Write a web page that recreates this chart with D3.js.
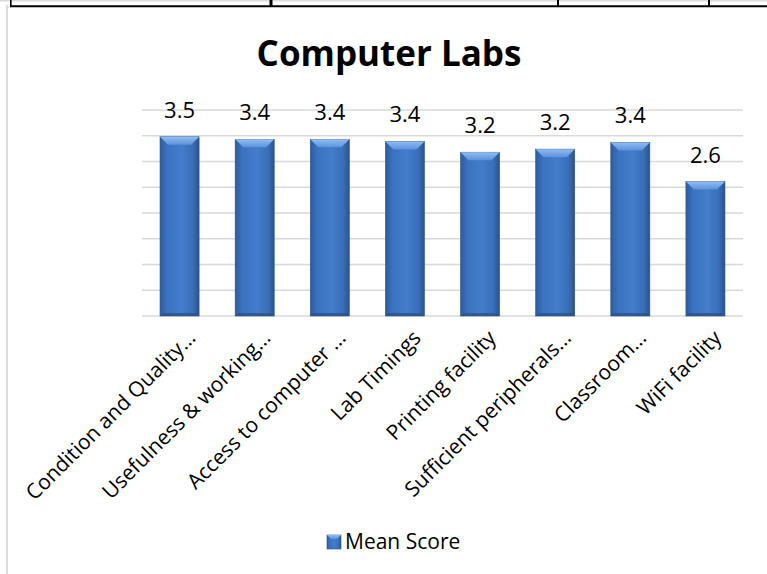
<!DOCTYPE html>
<html>
<head>
<meta charset="utf-8">
<script src="https://cdn.jsdelivr.net/npm/d3@7"></script>
<style>
  html, body { margin: 0; padding: 0; background: #fff; }
  svg { display: block; }
</style>
</head>
<body>
<svg id="chart" width="767" height="574"></svg>
<script>
const categories = [
  "Condition and Quality…",
  "Usefulness & working…",
  "Access to computer …",
  "Lab Timings",
  "Printing facility",
  "Sufficient peripherals…",
  "Classroom…",
  "WiFi facility"
];
const meanScore = [3.48, 3.43, 3.43, 3.39, 3.18, 3.24, 3.37, 2.61];
const yTicks = [0, 0.5, 1, 1.5, 2, 2.5, 3, 3.5, 4];
const title = "Computer Labs";
const seriesName = "Mean Score";

const svg = d3.select("#chart");
const font = "'Open Sans', 'Noto Sans', sans-serif";

// page frame (table border remnants)
svg.append("line").attr("x1", 0).attr("x2", 767).attr("y1", 0.8).attr("y2", 0.8)
  .attr("stroke", "#dcdcdc").attr("stroke-width", 1.6);
svg.append("line").attr("x1", 10).attr("x2", 767).attr("y1", 6.3).attr("y2", 6.3)
  .attr("stroke", "#000").attr("stroke-width", 2);
[[10.8, 1.6], [271, 3], [558, 2], [709, 2]].forEach(([x, w]) => {
  svg.append("line").attr("x1", x).attr("x2", x).attr("y1", 0).attr("y2", 6)
    .attr("stroke", "#000").attr("stroke-width", w);
});
svg.append("line").attr("x1", 7).attr("x2", 7).attr("y1", 5).attr("y2", 574)
  .attr("stroke", "#dcdcdc").attr("stroke-width", 2);

const x = d3.scaleBand().domain(categories).range([142, 743]).paddingInner(0.48).paddingOuter(0.24);
const y = d3.scaleLinear().domain([0, 4]).range([316, 110]);

// gradients
const defs = svg.append("defs");
const face = defs.append("linearGradient").attr("id", "face").attr("x1", 0).attr("x2", 1).attr("y1", 0).attr("y2", 0);
face.append("stop").attr("offset", "0%").attr("stop-color", "#2c5c9c");
face.append("stop").attr("offset", "18%").attr("stop-color", "#3b72bf");
face.append("stop").attr("offset", "55%").attr("stop-color", "#437dcb");
face.append("stop").attr("offset", "85%").attr("stop-color", "#3a6db7");
face.append("stop").attr("offset", "100%").attr("stop-color", "#28538c");
const topG = defs.append("linearGradient").attr("id", "topbevel").attr("x1", 0).attr("x2", 0).attr("y1", 0).attr("y2", 1);
topG.append("stop").attr("offset", "0%").attr("stop-color", "#93bcf0");
topG.append("stop").attr("offset", "100%").attr("stop-color", "#5b92dc");

// gridlines
svg.append("g").selectAll("line").data(yTicks).join("line")
  .attr("x1", 142).attr("x2", 743)
  .attr("y1", d => y(d)).attr("y2", d => y(d))
  .attr("stroke", "#d9d9d9").attr("stroke-width", 1.5);

// bars
const bw = x.bandwidth();
const bars = svg.append("g").selectAll("g").data(categories.map((c, i) => ({ c, v: meanScore[i] }))).join("g");
bars.append("rect")
  .attr("x", d => x(d.c)).attr("y", d => y(d.v))
  .attr("width", bw).attr("height", d => y(0) - y(d.v))
  .attr("fill", "url(#face)").attr("stroke", "#2a5590").attr("stroke-width", 0.6);
const bev = 8;
bars.append("path")
  .attr("d", d => {
    const x0 = x(d.c), x1 = x0 + bw, t = y(d.v);
    return `M${x0},${t}L${x1},${t}L${x1 - bev},${t + bev}L${x0 + bev},${t + bev}Z`;
  })
  .attr("fill", "url(#topbevel)");
bars.append("path")
  .attr("d", d => {
    const x0 = x(d.c), x1 = x0 + bw, b = y(0);
    return `M${x0},${b}L${x1},${b}L${x1 - 3},${b - 3}L${x0 + 3},${b - 3}Z`;
  })
  .attr("fill", "#284f86").attr("opacity", 0.7);

// data labels
bars.append("text")
  .attr("x", d => x(d.c) + bw / 2)
  .attr("y", d => y(d.v) - 19)
  .attr("text-anchor", "middle")
  .attr("font-family", font).attr("font-size", 22).attr("fill", "#000")
  .text(d => d.v.toFixed(1));

// x axis labels
const xAxis = svg.append("g").attr("transform", "translate(0,316)")
  .call(d3.axisBottom(x).tickSize(0).tickPadding(0));
xAxis.select(".domain").remove();
xAxis.selectAll("text")
  .attr("font-family", font).attr("font-size", 21).attr("fill", "#000")
  .attr("text-anchor", "end")
  .attr("transform", "translate(12,18) rotate(-45)")
  .attr("dy", "0.35em").attr("y", 0).attr("x", 0);

// title
svg.append("text").attr("x", 389).attr("y", 66).attr("text-anchor", "middle")
  .attr("font-family", font).attr("font-weight", "bold").attr("font-size", 35)
  .attr("fill", "#000").text(title);

// legend
const lg = svg.append("g").attr("transform", "translate(327,535)");
lg.append("rect").attr("width", 14).attr("height", 14).attr("fill", "url(#face)").attr("stroke", "#2a5590").attr("stroke-width", 0.6);
lg.append("path").attr("d", "M0,0L14,0L10,4L4,4Z").attr("fill", "url(#topbevel)");
lg.append("text").attr("x", 18).attr("y", 14)
  .attr("font-family", font).attr("font-size", 21).attr("fill", "#000").text(seriesName);
</script>
</body>
</html>
